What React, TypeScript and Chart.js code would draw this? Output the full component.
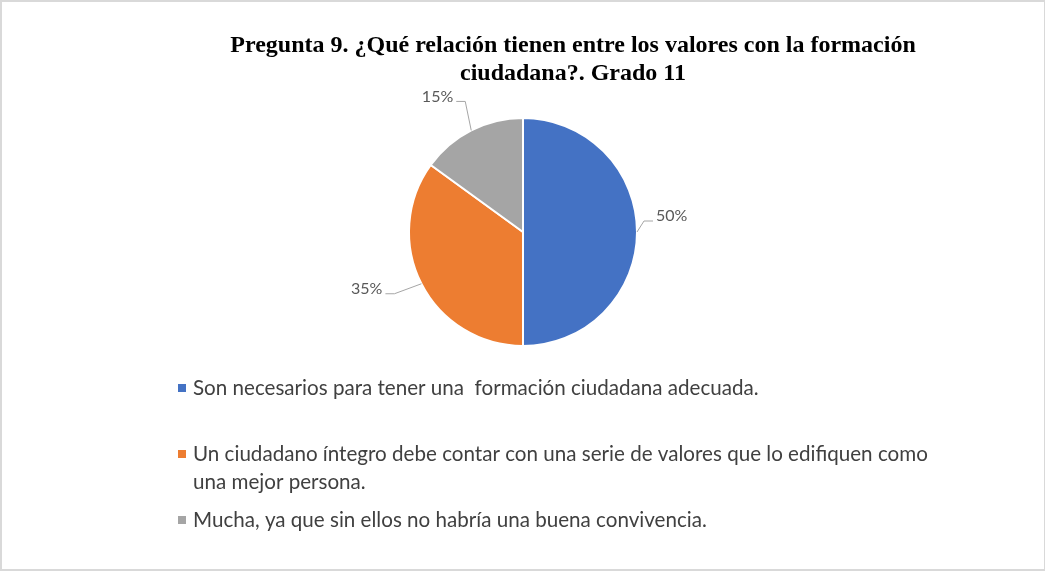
import React, { useEffect, useRef } from "react";
import { Chart, registerables } from "chart.js";

Chart.register(...registerables);

const TITLE_LINES = [
  "Pregunta 9. ¿Qué relación tienen entre los valores con la formación",
  "ciudadana?. Grado 11",
];
const CATEGORIES = [
  "Son necesarios para tener una  formación ciudadana adecuada.\n",
  "Un ciudadano íntegro debe contar con una serie de valores que lo edifiquen como una mejor persona.",
  "Mucha, ya que sin ellos no habría una buena convivencia.",
];
const VALUES = [50, 35, 15];
const COLORS = ["#4472C4", "#ED7D31", "#A5A5A5"];

// label leader layout (style): elbow offset from slice edge midpoint, side of text
const LABEL_LAYOUT = [
  { dx: 7, dy: -11, side: 1 },
  { dx: -27, dy: 10, side: -1 },
  { dx: -6, dy: -29, side: -1 },
];

const W = 1045;
const H = 571;

function wrap(ctx: CanvasRenderingContext2D, text: string, maxW: number): string[] {
  const out: string[] = [];
  for (const para of text.split("\n")) {
    const words = para.split(" ");
    let line = "";
    for (let i = 0; i < words.length; i++) {
      const test = line === "" ? words[i] : line + " " + words[i];
      if (ctx.measureText(test).width > maxW && line !== "") {
        out.push(line);
        line = words[i];
      } else {
        line = test;
      }
    }
    out.push(line);
  }
  return out;
}

const overlay = {
  id: "overlay",
  beforeDraw(chart: any) {
    const ctx = chart.ctx as CanvasRenderingContext2D;
    ctx.save();
    ctx.fillStyle = "#ffffff";
    ctx.fillRect(0, 0, W, H);
    ctx.fillStyle = "#d9d9d9";
    ctx.fillRect(0, 0, W, 2);
    ctx.fillRect(0, 0, 2, H);
    ctx.fillRect(W - 1, 0, 1, H);
    ctx.fillRect(0, H - 2, W, 2);
    ctx.restore();
  },
  afterDraw(chart: any) {
    const ctx = chart.ctx as CanvasRenderingContext2D;
    ctx.save();
    // title
    ctx.fillStyle = "#000000";
    ctx.font = 'bold 24px "Liberation Serif"';
    ctx.textAlign = "center";
    ctx.textBaseline = "alphabetic";
    const tb = [52, 80];
    TITLE_LINES.forEach((l, i) => ctx.fillText(l, 573, tb[i], 690));

    // data labels
    const meta = chart.getDatasetMeta(0);
    const vals = chart.data.datasets[0].data as number[];
    ctx.font = '16px "Lato"';
    ctx.textBaseline = "middle";
    meta.data.forEach((arc: any, i: number) => {
      const p = arc.getProps(["x", "y", "startAngle", "endAngle", "outerRadius"], true);
      const mid = (p.startAngle + p.endAngle) / 2;
      const ex = p.x + Math.cos(mid) * p.outerRadius;
      const ey = p.y + Math.sin(mid) * p.outerRadius;
      const lay = LABEL_LAYOUT[i];
      const bx = ex + lay.dx;
      const by = ey + lay.dy;
      const hx = bx + lay.side * 9;
      ctx.strokeStyle = "#a6a6a6";
      ctx.lineWidth = 1;
      ctx.beginPath();
      ctx.moveTo(ex, ey);
      ctx.lineTo(bx, by);
      ctx.lineTo(hx, by);
      ctx.stroke();
      ctx.fillStyle = "#595959";
      ctx.textAlign = lay.side > 0 ? "left" : "right";
      ctx.fillText(vals[i] + "%", hx + lay.side * 3, by - 5);
    });

    // legend
    ctx.font = '20.6px "Lato"';
    ctx.textAlign = "left";
    ctx.textBaseline = "middle";
    let y = 388;
    const lineH = 28;
    (chart.data.labels as string[]).forEach((lab, i) => {
      ctx.fillStyle = COLORS[i];
      ctx.fillRect(178, y - 4, 8, 8);
      ctx.fillStyle = "#404040";
      const lines = wrap(ctx, lab, 750);
      lines.forEach((ln, j) => ctx.fillText(ln, 193, y + j * lineH));
      y += lines.length * lineH + 10;
    });
    ctx.restore();
  },
};

export default function App() {
  const ref = useRef<HTMLCanvasElement | null>(null);
  useEffect(() => {
    document.body.style.margin = "0";
    if (!ref.current) return;
    const chart = new Chart(ref.current, {
      type: "pie",
      data: {
        labels: CATEGORIES,
        datasets: [
          {
            data: VALUES,
            backgroundColor: COLORS,
            borderColor: "#ffffff",
            borderWidth: 2,
          },
        ],
      },
      options: {
        responsive: false,
        animation: false,
        devicePixelRatio: 1,
        layout: { padding: { left: 408, right: W - 638, top: 117, bottom: H - 347 } },
        plugins: {
          legend: { display: false },
          title: { display: false },
          tooltip: { enabled: false },
        },
      },
      plugins: [overlay],
    });
    return () => chart.destroy();
  }, []);
  return <canvas ref={ref} width={W} height={H} style={{ display: "block" }} />;
}
